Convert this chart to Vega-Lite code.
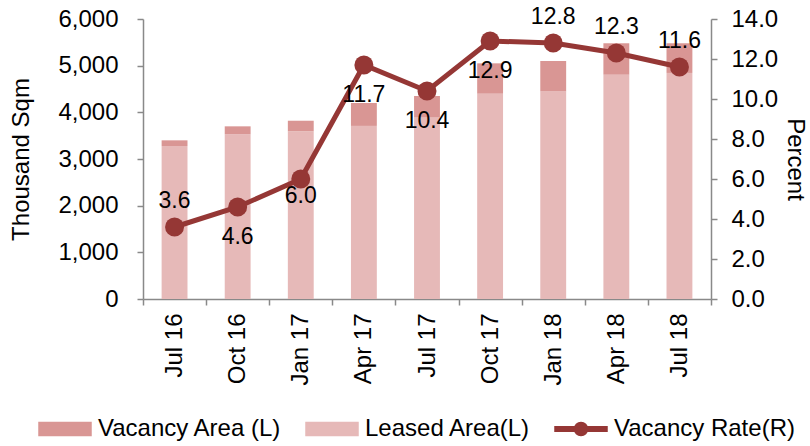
{
  "$schema": "https://vega.github.io/schema/vega-lite/v6.json",
  "width": 568,
  "height": 280,
  "autosize": {"type": "none"},
  "padding": {"left": 143, "top": 19, "right": 99, "bottom": 147},
  "config": {
    "font": "Liberation Sans",
    "view": {"stroke": null},
    "axis": {
      "grid": false,
      "labelFont": "Liberation Sans",
      "labelFontSize": 24,
      "labelColor": "#000000",
      "titleFont": "Liberation Sans",
      "titleFontSize": 24,
      "titleFontWeight": "normal",
      "titleColor": "#000000",
      "domainColor": "#898989",
      "domainWidth": 1.5,
      "tickColor": "#898989",
      "tickWidth": 1.5,
      "tickSize": 6
    },
    "legend": {
      "labelFont": "Liberation Sans",
      "labelFontSize": 24,
      "labelColor": "#000000"
    }
  },
  "datasets": {
    "area": [
      {"month": "Jul 16", "series": "Leased Area(L)", "value": 3278},
      {"month": "Jul 16", "series": "Vacancy Area (L)", "value": 122},
      {"month": "Oct 16", "series": "Leased Area(L)", "value": 3530},
      {"month": "Oct 16", "series": "Vacancy Area (L)", "value": 170},
      {"month": "Jan 17", "series": "Leased Area(L)", "value": 3591},
      {"month": "Jan 17", "series": "Vacancy Area (L)", "value": 229},
      {"month": "Apr 17", "series": "Leased Area(L)", "value": 3709},
      {"month": "Apr 17", "series": "Vacancy Area (L)", "value": 491},
      {"month": "Jul 17", "series": "Leased Area(L)", "value": 3898},
      {"month": "Jul 17", "series": "Vacancy Area (L)", "value": 452},
      {"month": "Oct 17", "series": "Leased Area(L)", "value": 4399},
      {"month": "Oct 17", "series": "Vacancy Area (L)", "value": 651},
      {"month": "Jan 18", "series": "Leased Area(L)", "value": 4447},
      {"month": "Jan 18", "series": "Vacancy Area (L)", "value": 653},
      {"month": "Apr 18", "series": "Leased Area(L)", "value": 4806},
      {"month": "Apr 18", "series": "Vacancy Area (L)", "value": 674},
      {"month": "Jul 18", "series": "Leased Area(L)", "value": 4844},
      {"month": "Jul 18", "series": "Vacancy Area (L)", "value": 636}
    ],
    "rate": [
      {"month": "Jul 16", "series": "Vacancy Rate(R)", "rate": 3.6},
      {"month": "Oct 16", "series": "Vacancy Rate(R)", "rate": 4.6},
      {"month": "Jan 17", "series": "Vacancy Rate(R)", "rate": 6.0},
      {"month": "Apr 17", "series": "Vacancy Rate(R)", "rate": 11.7},
      {"month": "Jul 17", "series": "Vacancy Rate(R)", "rate": 10.4},
      {"month": "Oct 17", "series": "Vacancy Rate(R)", "rate": 12.9},
      {"month": "Jan 18", "series": "Vacancy Rate(R)", "rate": 12.8},
      {"month": "Apr 18", "series": "Vacancy Rate(R)", "rate": 12.3},
      {"month": "Jul 18", "series": "Vacancy Rate(R)", "rate": 11.6}
    ]
  },
  "encoding": {
    "x": {
      "field": "month",
      "type": "nominal",
      "sort": ["Jul 16", "Oct 16", "Jan 17", "Apr 17", "Jul 17", "Oct 17", "Jan 18", "Apr 18", "Jul 18"],
      "scale": {"paddingInner": 0, "paddingOuter": 0},
      "axis": {
        "title": null,
        "labelAngle": -90,
        "labelPadding": 8,
        "tickBand": "extent"
      }
    }
  },
  "layer": [
    {
      "data": {"name": "area"},
      "mark": {"type": "bar", "width": {"band": 0.41}},
      "encoding": {
        "y": {
          "field": "value",
          "type": "quantitative",
          "stack": "zero",
          "scale": {"domain": [0, 6000], "nice": false},
          "axis": {
            "title": "Thousand Sqm",
            "values": [0, 1000, 2000, 3000, 4000, 5000, 6000],
            "format": ",.0f",
            "labelPadding": 19,
            "titlePadding": 24
          }
        },
        "color": {
          "field": "series",
          "type": "nominal",
          "scale": {
            "domain": ["Vacancy Area (L)", "Leased Area(L)", "Vacancy Rate(R)"],
            "range": ["#D99694", "#E6B9B8", "#953735"]
          },
          "legend": {
            "title": null,
            "orient": "none",
            "direction": "horizontal",
            "legendX": -105,
            "legendY": 383,
            "padding": 0,
            "symbolSize": 2704,
            "labelOffset": 6,
            "labelLimit": 400,
            "columnPadding": 21,
            "encode": {
              "symbols": {
                "update": {
                  "shape": {"signal": "datum.value === 'Vacancy Rate(R)' ? 'M-1,-0.09H1V0.09H-1Z M0.25,0A0.25,0.25 0 1,1 -0.25,0A0.25,0.25 0 1,1 0.25,0Z' : 'M-1,-0.25H1V0.25H-1Z'"},
                  "fill": {"signal": "scale('color', datum.value)"},
                  "stroke": {"value": "transparent"},
                  "opacity": {"value": 1},
                  "fillOpacity": {"value": 1},
                  "size": {"value": 2704}
                }
              }
            }
          }
        },
        "order": {"field": "series", "sort": "ascending"}
      }
    },
    {
      "data": {"name": "rate"},
      "encoding": {
        "y": {
          "field": "rate",
          "type": "quantitative",
          "scale": {"domain": [0, 14], "nice": false},
          "axis": {
            "orient": "right",
            "title": "Percent",
            "titleAngle": 90,
            "values": [0, 2, 4, 6, 8, 10, 12, 14],
            "format": ".1f",
            "labelPadding": 14,
            "titlePadding": 5
          }
        }
      },
      "layer": [
        {
          "mark": {"type": "line", "strokeWidth": 5, "color": "#953735"},
          "encoding": {"color": {"field": "series", "type": "nominal"}}
        },
        {
          "mark": {"type": "point", "filled": true, "size": 360, "opacity": 1},
          "encoding": {"color": {"field": "series", "type": "nominal"}}
        },
        {
          "transform": [{"filter": {"field": "month", "oneOf": ["Jul 16", "Jan 18", "Apr 18", "Jul 18"]}}],
          "mark": {"type": "text", "fontSize": 23, "color": "#000000", "dy": -26, "baseline": "middle"},
          "encoding": {"text": {"field": "rate", "type": "quantitative", "format": ".1f"}}
        },
        {
          "transform": [{"filter": {"field": "month", "oneOf": ["Oct 16", "Apr 17", "Jul 17", "Oct 17"]}}],
          "mark": {"type": "text", "fontSize": 23, "color": "#000000", "dy": 30, "baseline": "middle"},
          "encoding": {"text": {"field": "rate", "type": "quantitative", "format": ".1f"}}
        },
        {
          "transform": [{"filter": {"field": "month", "equal": "Jan 17"}}],
          "mark": {"type": "text", "fontSize": 23, "color": "#000000", "dy": 17, "baseline": "middle"},
          "encoding": {"text": {"field": "rate", "type": "quantitative", "format": ".1f"}}
        }
      ]
    }
  ],
  "resolve": {"scale": {"y": "independent"}}
}
